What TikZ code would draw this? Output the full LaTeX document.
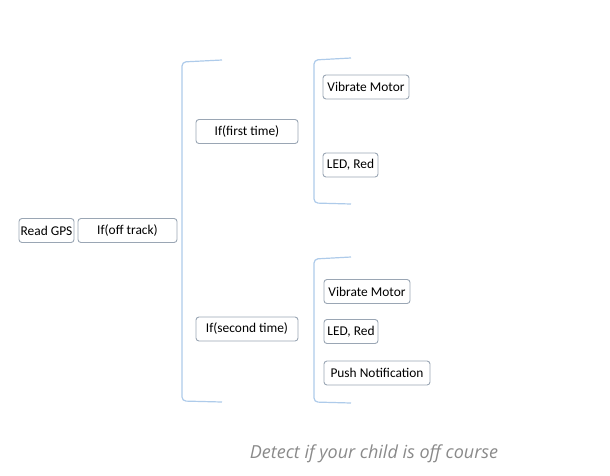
\documentclass[tikz,border=0pt]{standalone}
\usepackage{fontspec}
\setmainfont{Carlito}
\newfontfamily\captionfont{Open Sans}
\usepackage{tikz}
\usepackage{color}

\definecolor{bracketblue}{HTML}{AECBEA}
\definecolor{boxedge}{HTML}{9AA6B4}
\definecolor{captiongray}{HTML}{8A8A8A}

\tikzset{
  stepnode/.style={draw=boxedge, line width=0.9pt, rounded corners=3pt, fill=white,
    minimum height=24pt, inner sep=1pt, font=\fontsize{13.4}{15}\selectfont},
  brace/.style={draw=bracketblue, line width=1.2pt, rounded corners=4pt}
}

\begin{document}
\begin{tikzpicture}[x=1pt, y=-1pt]
\useasboundingbox (0,0) rectangle (610,475);

% brackets
\draw[brace] (222,60) -- (182,62) -- (182,401) -- (222,402);
\draw[brace] (351,58) -- (314,60) -- (314,203) -- (351,204);
\draw[brace] (351,257) -- (314,259) -- (314,402) -- (351,403);

% first level
\node[stepnode, minimum width=55pt] (gps) at (46.5,230.5) {Read GPS};
\node[stepnode, minimum width=99pt] (offtrack) at (127.5,230.5) {If(off track)};

% second level
\node[stepnode, minimum width=102pt] (first) at (247,131.5) {If(first time)};
\node[stepnode, minimum width=102pt] (second) at (247,329) {If(second time)};

% actions
\node[stepnode, minimum width=86pt] (vib1) at (366,87) {Vibrate Motor};
\node[stepnode, minimum width=55pt] (led1) at (350.5,165) {LED, Red};
\node[stepnode, minimum width=86pt] (vib2) at (367,291.5) {Vibrate Motor};
\node[stepnode, minimum width=54pt] (led2) at (351,331.5) {LED, Red};
\node[stepnode, minimum width=106pt] (push) at (377,373) {Push Notif{}ication};

\node[text=captiongray, font=\captionfont\itshape\fontsize{18}{21}\selectfont] (caption) at (374,454) {Detect if your child is off course};

\end{tikzpicture}
\end{document}
